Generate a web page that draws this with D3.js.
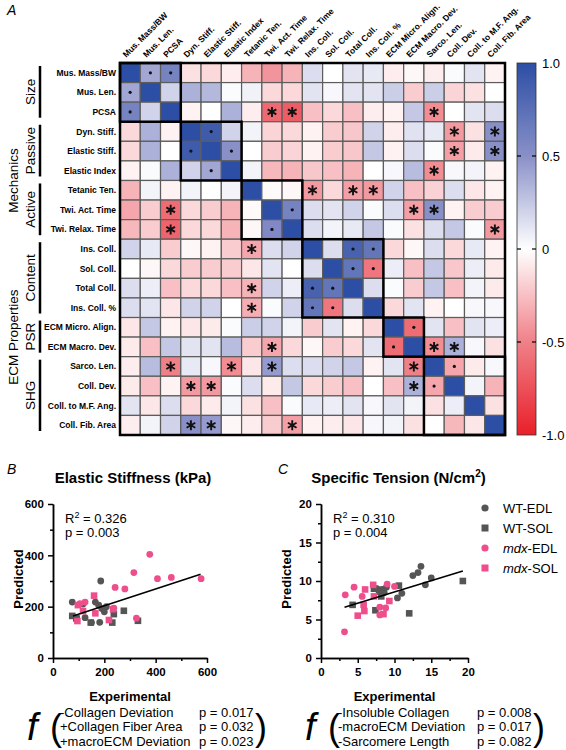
<!DOCTYPE html>
<html><head><meta charset="utf-8">
<script src="https://cdn.jsdelivr.net/npm/d3@7"></script>
<style>body{margin:0;background:#fff} svg{display:block} text{font-family:"Liberation Sans",Arial,Helvetica,sans-serif}</style>
</head><body><svg id="chart" width="566" height="750"></svg>
<script>
// ---------- Panel A data ----------
const variables = ["Mus. Mass/BW","Mus. Len.","PCSA","Dyn. Stiff.","Elastic Stiff.","Elastic Index",
  "Tetanic Ten.","Twi. Act. Time","Twi. Relax. Time","Ins. Coll.","Sol. Coll.","Total Coll.","Ins. Coll. %",
  "ECM Micro. Align.","ECM Macro. Dev.","Sarco. Len.","Coll. Dev.","Coll. to M.F. Ang.","Coll. Fib. Area"];
const corr = [
 [1,0.4,0.6,-0.12,-0.15,-0.07,-0.3,-0.42,-0.3,0.15,0,0.12,0.1,-0.07,-0.03,-0.07,0.02,0.12,-0.05],
 [0.4,1,0.2,0.35,0.32,0.02,0.06,-0.15,-0.15,0.12,0.03,0.12,0.12,0.22,-0.2,0.22,-0.17,-0.12,0],
 [0.6,0.2,1,-0.05,0,0.35,-0.07,-0.62,-0.68,-0.25,-0.15,-0.25,-0.07,-0.05,0.25,-0.45,0,0.12,0.15],
 [-0.15,0.35,-0.05,1,0.9,0.2,0.05,-0.17,-0.15,-0.05,-0.2,-0.22,0.2,-0.07,0.13,0.1,-0.4,-0.12,0.5],
 [-0.15,0.35,0,0.9,1,0.5,0,-0.2,-0.17,-0.05,-0.2,-0.22,0.25,-0.05,0.15,0.02,-0.38,-0.08,0.5],
 [-0.05,0.02,0.35,0.2,0.4,1,0.05,-0.28,-0.3,-0.22,-0.25,-0.3,0,0.03,0.3,-0.45,0.03,0.05,-0.05],
 [-0.3,0.05,-0.05,0.05,0,0.05,1,-0.02,-0.03,-0.4,-0.15,-0.38,-0.4,0.2,-0.25,-0.18,0.15,-0.1,-0.05],
 [-0.35,-0.2,-0.6,-0.15,-0.2,-0.3,-0.02,1,0.6,0.15,0.12,0.2,0.02,0.15,-0.38,0.5,-0.05,-0.2,-0.2],
 [-0.28,-0.2,-0.65,-0.15,-0.15,-0.3,-0.03,0.55,1,0.15,0.05,0.1,0.25,0.02,-0.12,0.15,0.25,0.02,-0.4],
 [0.2,0.1,-0.2,-0.03,-0.05,-0.2,-0.35,0.15,0.2,1,0.15,0.85,0.7,-0.15,-0.03,0.15,-0.15,0.1,-0.05],
 [0,-0.03,-0.15,-0.2,-0.2,-0.2,-0.1,0.12,0,0.15,1,0.7,-0.55,0.08,-0.25,0.25,-0.22,0.08,-0.08],
 [0.15,0.08,-0.25,-0.15,-0.15,-0.25,-0.3,0.2,0.08,0.85,0.7,1,0.15,0.02,-0.2,0.25,-0.25,0.05,-0.08],
 [0.15,0.12,-0.1,0.2,0.2,0,-0.32,0.02,0.2,0.7,-0.55,0.15,1,-0.15,0.12,-0.05,0,0.03,0.03],
 [-0.1,0.25,-0.05,-0.1,-0.08,0.02,0.22,0.2,0.05,-0.2,0.12,-0.05,-0.15,1,-0.6,0.12,-0.25,0.12,0.08],
 [-0.08,-0.25,0.25,0.12,0.12,0.3,-0.2,-0.35,-0.15,-0.03,-0.2,-0.15,0.12,-0.6,1,-0.45,0.35,0.03,-0.12],
 [-0.07,0.3,-0.5,0.1,0.03,-0.45,-0.1,0.45,0.15,0.15,0.2,0.25,-0.05,0.12,-0.5,1,-0.35,-0.08,0.03],
 [-0.08,-0.25,-0.05,-0.4,-0.4,0.02,0.15,-0.08,0.25,-0.15,-0.2,-0.25,0,-0.25,0.35,-0.35,1,0.05,-0.3],
 [0.12,-0.1,0.15,-0.15,-0.08,0.05,-0.12,-0.25,0.02,0.1,0.08,0.12,0.03,0.12,0.05,-0.12,0.08,1,-0.12],
 [-0.07,0.05,0.2,0.5,0.45,-0.03,-0.07,-0.2,-0.38,-0.05,-0.07,-0.1,0.03,0.05,-0.12,0,-0.28,-0.1,1]
];
const sigCells = [[0,1],[0,2],[1,0],[2,0],[2,7],[2,8],[2,15],[3,4],[3,16],[3,18],[4,3],[4,5],[4,16],[4,18],
 [5,4],[5,15],[6,9],[6,11],[6,12],[7,2],[7,8],[7,14],[7,15],[8,2],[8,7],[8,18],[9,6],[9,11],[9,12],
 [10,11],[10,12],[11,6],[11,9],[11,10],[12,6],[12,9],[12,10],[13,14],[14,7],[14,13],[14,15],[14,16],
 [15,2],[15,5],[15,7],[15,14],[15,16],[16,3],[16,4],[16,14],[16,15],[18,3],[18,4],[18,8]];
const groupNames = ["Size","Passive","Active","Content","PSR","SHG"];
const groupStart = [0,3,6,9,13,15];
const groupEnd   = [2,5,8,12,14,18];
const superNames = ["Mechanics","ECM Properties"];
const superStart = [3,9];
const superEnd   = [8,18];
const colorTicks = [1,0.5,0,-0.5,-1];
const colorTickLabels = ["1.0","0.5","0","-0.5","-1.0"];

// ---------- Panel B data (Elastic Stiffness) ----------
const bWtEdl = [[75,218],[117,210],[186,300],[165,218],[178,206],[125,157],[182,139],[92,157],[200,180],[190,193],[208,200],[150,138]];
const bWtSol = [[75,164],[147,138],[231,138],[237,171],[276,184],[331,145],[91,154]];
const bMdxEdl = [[377,404],[315,333],[407,309],[461,314],[577,309],[242,275],[280,269],[125,218],[325,155],[237,194],[105,212]];
const bMdxSol = [[160,243],[97,206],[95,144],[165,174],[218,148],[234,190],[117,183]];
const bFit = [[78,164],[575,326]];
const bTicks = [0,200,400,600];
const bMinor = [100,300,500];
const bStats = ["0.326","0.003"];
const bTerms = ["-Collagen Deviation","+Collagen Fiber Area","+macroECM Deviation"];
const bP = ["p = 0.017","p = 0.032","p = 0.023"];

// ---------- Panel C data (Specific Tension) ----------
const cWtEdl = [[13.6,11.9],[13.2,11.1],[12.5,10.7],[15.0,10.4],[14.2,9.5],[11.0,8.4],[10.4,7.8],[8.9,9.2],[8.3,8.9],[7.9,8.6],[7.6,9.0],[8.6,8.5]];
const cWtSol = [[19.3,10.0],[10.6,9.4],[12.0,5.8],[7.4,6.2],[4.3,6.9],[7.2,9.0],[8.2,8.0]];
const cMdxEdl = [[3.3,8.2],[4.5,9.2],[5.6,8.0],[3.2,3.4],[10.0,9.3],[9.0,9.6],[8.0,6.6],[8.8,6.5],[8.0,5.6]];
const cMdxSol = [[6.0,8.9],[7.1,9.5],[5.8,6.9],[5.9,6.1],[5.0,5.5],[8.5,5.7],[9.3,7.4],[7.2,8.0]];
const cFit = [[3.2,6.6],[19.3,11.3]];
const cTicks = [0,5,10,15,20];
const cMinor = [2.5,7.5,12.5,17.5];
const cStats = ["0.310","0.004"];
const cTerms = ["-Insoluble Collagen","-macroECM Deviation","-Sarcomere Length"];
const cP = ["p = 0.008","p = 0.017","p = 0.082"];
const legendNames = ["WT-EDL","WT-SOL","mdx-EDL","mdx-SOL"];

// ---------- Drawing ----------
const svg = d3.select("#chart");
const GRAY = "#555555", PINK = "#ee4f8c";

svg.append("text").attr("x",7).attr("y",15).attr("font-size",14).attr("font-style","italic").text("A");

const n = variables.length;
const hx = d3.scaleBand().domain(d3.range(n)).range([120,505]);
const hy = d3.scaleBand().domain(d3.range(n)).range([63,435]);
const color = d3.scaleLinear().domain([-1,-0.5,0,0.5,1])
  .range(["#e8202a","#f08088","#ffffff","#8990c8","#2c4ea5"]).clamp(true);

const gH = svg.append("g");
corr.forEach((row,r)=>row.forEach((v,c)=>{
  gH.append("rect").attr("x",hx(c)).attr("y",hy(r)).attr("width",hx.bandwidth()).attr("height",hy.bandwidth())
    .attr("fill",color(v)).attr("stroke","#5c5c5c").attr("stroke-width",1.2);
}));
const groupOf = i => groupStart.findIndex((s,g)=> i>=s && i<=groupEnd[g]);
sigCells.forEach(([r,c])=>{
  const cx = hx(c)+hx.bandwidth()/2, cy = hy(r)+hy.bandwidth()/2;
  if (groupOf(r)===groupOf(c)) {
    gH.append("circle").attr("cx",cx).attr("cy",cy).attr("r",1.6).attr("fill","#111");
  } else {
    gH.append("path").attr("d",d3.symbol(d3.symbolAsterisk,70)()).attr("transform",`translate(${cx},${cy})`)
      .attr("stroke","#111").attr("stroke-width",1.9).attr("fill","none");
  }
});
// block borders
groupStart.forEach((s,g)=>{
  const e = groupEnd[g];
  gH.append("rect").attr("x",hx(s)).attr("y",hy(s)).attr("width",hx(e)+hx.bandwidth()-hx(s))
    .attr("height",hy(e)+hy.bandwidth()-hy(s)).attr("fill","none").attr("stroke","#000").attr("stroke-width",2.5);
});
gH.append("rect").attr("x",120).attr("y",63).attr("width",385).attr("height",372)
  .attr("fill","none").attr("stroke","#000").attr("stroke-width",2.5);

// row labels
variables.forEach((v,i)=>{
  svg.append("text").attr("x",116).attr("y",hy(i)+hy.bandwidth()/2).attr("dy","0.35em")
    .attr("text-anchor","end").attr("font-size",8.5).attr("font-weight","bold").text(v);
  svg.append("text").attr("transform",`translate(${hx(i)+hx.bandwidth()/2-4},58) rotate(-45)`)
    .attr("font-size",8.5).attr("font-weight","bold").text(v);
});
// group labels
groupNames.forEach((g,i)=>{
  const y0 = hy(groupStart[i])+3, y1 = hy(groupEnd[i])+hy.bandwidth()-4;
  svg.append("line").attr("x1",40).attr("x2",40).attr("y1",y0).attr("y2",y1).attr("stroke","#000").attr("stroke-width",2.5);
  svg.append("text").attr("transform",`translate(35,${(y0+y1)/2}) rotate(-90)`).attr("text-anchor","middle")
    .attr("font-size",13.5).text(g);
});
superNames.forEach((g,i)=>{
  const y0 = hy(superStart[i]), y1 = hy(superEnd[i])+hy.bandwidth();
  svg.append("text").attr("transform",`translate(18,${(y0+y1)/2}) rotate(-90)`).attr("text-anchor","middle")
    .attr("font-size",13.5).text(g);
});
// colorbar
const defs = svg.append("defs");
const grad = defs.append("linearGradient").attr("id","cb").attr("x1",0).attr("x2",0).attr("y1",0).attr("y2",1);
d3.range(0,1.0001,0.05).forEach(t=>{
  grad.append("stop").attr("offset",t).attr("stop-color",color(1-2*t));
});
const cby = d3.scaleLinear().domain([1,-1]).range([63,435]);
svg.append("rect").attr("x",517).attr("y",63).attr("width",19).attr("height",372).attr("fill","url(#cb)")
  .attr("stroke","#333").attr("stroke-width",0.8);
colorTicks.forEach((t,i)=>{
  if (Math.abs(t)<1) {
    svg.append("line").attr("x1",517).attr("x2",521).attr("y1",cby(t)).attr("y2",cby(t)).attr("stroke","#000").attr("stroke-width",1.2);
    svg.append("line").attr("x1",532).attr("x2",536).attr("y1",cby(t)).attr("y2",cby(t)).attr("stroke","#000").attr("stroke-width",1.2);
  }
  svg.append("text").attr("x",542).attr("y",cby(t)).attr("dy","0.35em").attr("font-size",13).text(colorTickLabels[i]);
});

// ---------- Scatter panels ----------
function scatterPanel(opt){
  const x = d3.scaleLinear().domain(opt.dom).range(opt.xr);
  const y = d3.scaleLinear().domain(opt.dom).range([658,504]);
  const g = svg.append("g");
  g.append("text").attr("x",opt.letterX).attr("y",474).attr("font-size",14).attr("font-style","italic").text(opt.letter);
  const tt = g.append("text").attr("x",(opt.xr[0]+opt.xr[1])/2+opt.titleDx).attr("y",483).attr("text-anchor","middle")
    .attr("font-size",15).attr("font-weight","bold");
  tt.append("tspan").text(opt.title);
  if (opt.titleSup) {
    tt.append("tspan").attr("dy",-6).attr("font-size",10).text(opt.titleSup);
    tt.append("tspan").attr("dy",6).text(")");
  }
  const fmt = d=>d;
  const ax = g.append("g").attr("transform","translate(0,658)")
    .call(d3.axisBottom(x).tickValues(opt.ticks).tickSize(5).tickSizeOuter(0).tickFormat(fmt));
  g.append("g").attr("transform","translate(0,658)")
    .call(d3.axisBottom(x).tickValues(opt.minor).tickSize(3).tickSizeOuter(0).tickFormat(""));
  const ay = g.append("g").attr("transform",`translate(${opt.xr[0]},0)`)
    .call(d3.axisLeft(y).tickValues(opt.ticks).tickSize(5).tickSizeOuter(0).tickFormat(fmt));
  g.append("g").attr("transform",`translate(${opt.xr[0]},0)`)
    .call(d3.axisLeft(y).tickValues(opt.minor).tickSize(3).tickSizeOuter(0).tickFormat(""));
  g.selectAll(".domain").attr("stroke","#000").attr("stroke-width",1.5);
  g.selectAll(".tick line").attr("stroke","#000").attr("stroke-width",1.5);
  g.selectAll(".tick text").attr("font-family","Liberation Sans, Arial, sans-serif").attr("font-size",11.5)
    .attr("font-weight","bold").attr("fill","#000");
  ax.selectAll(".tick text").attr("dy","0.9em");
  ay.selectAll(".tick text").attr("dx","-0.1em");
  g.append("text").attr("transform",`translate(${opt.xr[0]-30},579) rotate(-90)`).attr("text-anchor","middle")
    .attr("font-size",13).attr("font-weight","bold").text("Predicted");
  g.append("text").attr("x",(opt.xr[0]+opt.xr[1])/2).attr("y",701).attr("text-anchor","middle")
    .attr("font-size",13).attr("font-weight","bold").text("Experimental");
  // stats
  const s1 = g.append("text").attr("x",opt.xr[0]+12).attr("y",523).attr("font-size",13);
  s1.append("tspan").text("R");
  s1.append("tspan").attr("dy",-5).attr("font-size",9).text("2");
  s1.append("tspan").attr("dy",5).text(" = "+opt.stats[0]);
  g.append("text").attr("x",opt.xr[0]+12).attr("y",537).attr("font-size",13).text("p = "+opt.stats[1]);
  // points
  const circ = (data,col)=>data.forEach(d=>g.append("circle").attr("cx",x(d[0])).attr("cy",y(d[1])).attr("r",3.4).attr("fill",col));
  const sq = (data,col)=>data.forEach(d=>g.append("rect").attr("x",x(d[0])-3.3).attr("y",y(d[1])-3.3).attr("width",6.6).attr("height",6.6).attr("fill",col));
  sq(opt.wtSol,GRAY); circ(opt.wtEdl,GRAY); sq(opt.mdxSol,PINK); circ(opt.mdxEdl,PINK);
  g.append("line").attr("x1",x(opt.fit[0][0])).attr("y1",y(opt.fit[0][1])).attr("x2",x(opt.fit[1][0])).attr("y2",y(opt.fit[1][1]))
    .attr("stroke","#000").attr("stroke-width",1.6);
  // formula
  g.append("text").attr("x",opt.fx).attr("y",740).attr("font-family","Liberation Serif, Times New Roman, serif")
    .attr("font-style","italic").attr("font-size",38).text("f");
  g.append("text").attr("x",opt.fx+23).attr("y",740).attr("font-size",36).text("(");
  g.append("text").attr("x",opt.px+56).attr("y",740).attr("font-size",36).text(")");
  opt.terms.forEach((t,i)=>{
    g.append("text").attr("x",opt.fx+33).attr("y",717+i*14.3).attr("font-size",13).text(t);
    g.append("text").attr("x",opt.px).attr("y",717+i*14.3).attr("font-size",13).text(opt.pv[i]);
  });
}
scatterPanel({dom:[0,600],xr:[53,207],ticks:bTicks,minor:bMinor,letter:"B",letterX:7,title:"Elastic Stiffness (kPa)",titleDx:3,
  stats:bStats,wtEdl:bWtEdl,wtSol:bWtSol,mdxEdl:bMdxEdl,mdxSol:bMdxSol,fit:bFit,terms:bTerms,pv:bP,fx:27,px:199});
scatterPanel({dom:[0,20],xr:[321,468],ticks:cTicks,minor:cMinor,letter:"C",letterX:278,title:"Specific Tension (N/cm",titleSup:"2",titleDx:4,
  stats:cStats,wtEdl:cWtEdl,wtSol:cWtSol,mdxEdl:cMdxEdl,mdxSol:cMdxSol,fit:cFit,terms:cTerms,pv:cP,fx:305,px:477});

// legend
const lg = svg.append("g");
legendNames.forEach((nm,i)=>{
  const yy = 508+i*20, col = i<2?GRAY:PINK;
  if (i%2===0) lg.append("circle").attr("cx",485).attr("cy",yy).attr("r",3.6).attr("fill",col);
  else lg.append("rect").attr("x",481.5).attr("y",yy-3.5).attr("width",7).attr("height",7).attr("fill",col);
  const t = lg.append("text").attr("x",503).attr("y",yy).attr("dy","0.36em").attr("font-size",13);
  if (nm.startsWith("mdx")) { t.append("tspan").attr("font-style","italic").text("mdx"); t.append("tspan").text(nm.slice(3)); }
  else t.text(nm);
});
</script></body></html>
